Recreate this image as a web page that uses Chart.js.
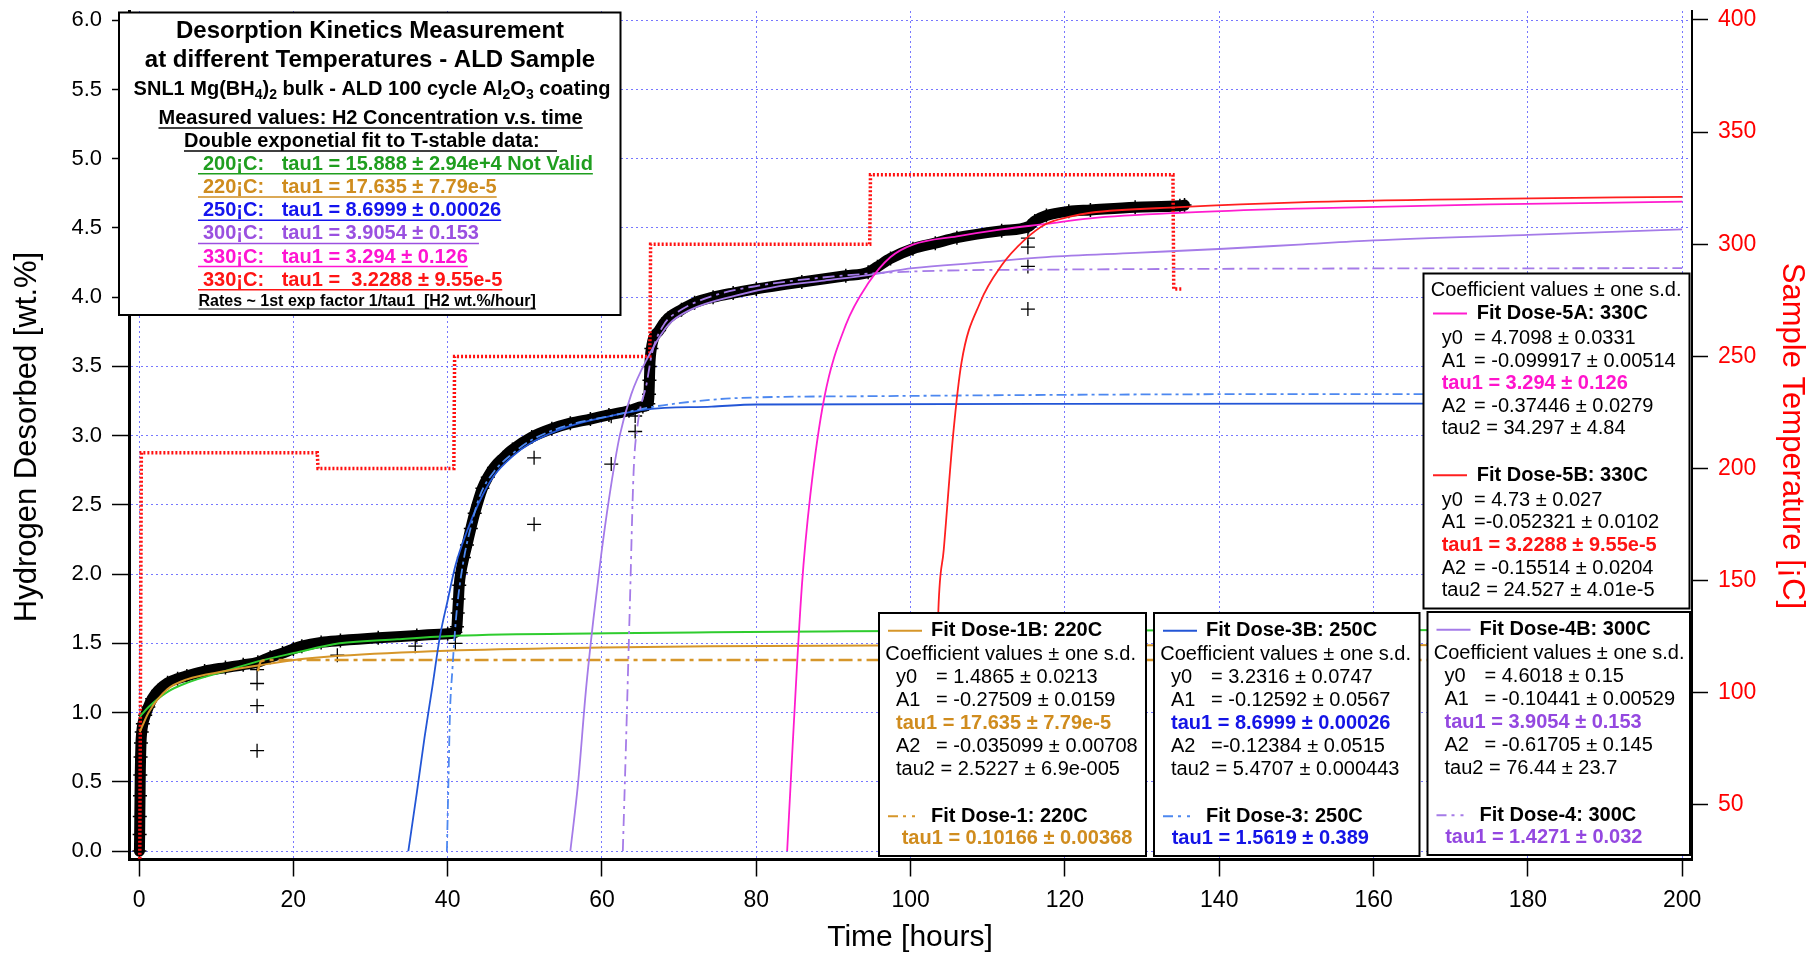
<!DOCTYPE html>
<html>
<head>
<meta charset="utf-8">
<script src="https://cdn.jsdelivr.net/npm/chart.js@4.4.1/dist/chart.umd.min.js"></script>
<style>
  html, body { margin: 0; padding: 0; background: #fff; }
  #wrap { width: 1812px; height: 953px; position: relative; }
</style>
</head>
<body>
<div id="wrap"><canvas id="c" width="1812" height="953"></canvas></div>
<script>
// ---------- tick values ----------
const xTickVals = [0, 20, 40, 60, 80, 100, 120, 140, 160, 180, 200];
const h2TickVals = [0, 0.5, 1, 1.5, 2, 2.5, 3, 3.5, 4, 4.5, 5, 5.5, 6];
const tempTickVals = [50, 100, 150, 200, 250, 300, 350, 400];

// ---------- measured H2 desorption (wt.%) vs time (h) ----------
const measTime = [0.05, 0.08, 0.1, 0.13, 0.16, 0.2, 0.25, 0.35, 0.5, 0.8, 1.2, 1.7, 2.5, 3.7, 5.0, 6.2, 8.5, 11.2, 13.5, 15.4,
  17.0, 18.6, 20.0, 21.1, 23.6, 26.1, 31.0, 36.0, 40.0, 41.0, 41.2, 41.3, 41.4, 41.5, 41.7, 42.1, 42.5, 43.0, 43.5, 44.5,
  45.2, 46.0, 47.2, 48.4, 50.9, 53.5, 55.9, 58.5, 60.9, 63.5, 65.3, 66.0, 66.1, 66.15, 66.2, 66.4, 67.4, 68.6, 70.3, 72.0,
  74.4, 77.0, 80.0, 85.9, 91.6, 94.5, 95.7, 97.4, 100.3, 103.2, 106.0, 111.8, 115.3, 116.1, 117.6, 120.5, 123.3, 129.1, 134.9, 135.5];
const measH2 = [0.0, 0.12, 0.25, 0.4, 0.55, 0.68, 0.78, 0.86, 0.92, 0.98, 1.04, 1.10, 1.16, 1.215, 1.245, 1.265, 1.30, 1.325, 1.345, 1.364,
  1.40, 1.43, 1.46, 1.48, 1.507, 1.52, 1.54, 1.556, 1.57, 1.58, 1.62, 1.72, 1.82, 1.92, 2.01, 2.12, 2.21, 2.33, 2.44, 2.62,
  2.70, 2.77, 2.84, 2.90, 2.99, 3.05, 3.09, 3.12, 3.15, 3.18, 3.21, 3.23, 3.30, 3.40, 3.50, 3.63, 3.76, 3.85, 3.91, 3.96,
  4.00, 4.03, 4.06, 4.11, 4.155, 4.18, 4.22, 4.28, 4.35, 4.39, 4.43, 4.48, 4.51, 4.55, 4.59, 4.62, 4.63, 4.65, 4.66, 4.665];

// stray readings recorded while the temperature was changing
const strayTime = [15.3, 15.3, 15.3, 15.3, 25.7, 35.8, 41.0, 51.2, 51.2, 61.2, 61.2, 64.3, 64.3, 115.2, 115.2, 115.2, 115.2];
const strayH2   = [1.31, 1.21, 1.05, 0.725, 1.414, 1.48, 1.50, 2.84, 2.36, 2.795, 3.14, 3.142, 3.03, 4.427, 4.361, 4.222, 3.914];

// ---------- sample temperature (right axis) ----------
const tempTime = [0.1, 0.3, 23.1, 23.2, 40.8, 40.9, 66.2, 66.3, 94.7, 94.8, 134.0, 134.1, 135.3];
const tempVal  = [26, 207, 207, 200, 200, 250, 250, 300, 300, 331, 331, 280, 280];

// ---------- double-exponential fits ----------
const fit200T = [0.1, 1.24, 3.7, 6.2, 11.2, 15.4, 20.1, 26.0, 33.5, 41.0, 60.9, 74.2, 88.8, 100, 150, 200];
const fit200Y = [0.97, 1.04, 1.15, 1.215, 1.30, 1.37, 1.43, 1.50, 1.53, 1.555, 1.573, 1.58, 1.586, 1.59, 1.595, 1.597];

const fit1BT = [0.1, 1.24, 3.7, 6.2, 11.2, 15.4, 20.1, 26.0, 40.0, 60.0, 74.0, 100, 150, 200];
const fit1BY = [0.86, 1.00, 1.17, 1.24, 1.30, 1.34, 1.38, 1.41, 1.447, 1.47, 1.48, 1.485, 1.487, 1.4875];

const fit1T = [15.4, 15.8, 17.0, 200];
const fit1Y = [1.30, 1.37, 1.38, 1.38];

const fit3BT = [34.9, 36.0, 37.0, 38.0, 39.0, 40.0, 41.0, 42.5, 44.0, 46.0, 48.4, 50.9, 55.9, 60.9, 65.8, 74.2, 80, 120, 200];
const fit3BY = [0.0, 0.42, 0.82, 1.18, 1.55, 1.81, 2.06, 2.31, 2.51, 2.71, 2.85, 2.95, 3.07, 3.14, 3.19, 3.21, 3.225, 3.23, 3.232];

const fit3T = [39.9, 40.1, 40.3, 40.6, 40.9, 41.2, 42.0, 43.0, 44.2, 46.0, 48.4, 50.9, 55.9, 60.9, 65.8, 68.6, 77.0, 94.5, 150, 200];
const fit3Y = [0.0, 0.5, 1.0, 1.3, 1.55, 1.75, 2.08, 2.34, 2.57, 2.74, 2.87, 2.97, 3.08, 3.14, 3.20, 3.225, 3.27, 3.285, 3.30, 3.30];

const fit4BT = [55.9, 56.9, 57.9, 58.9, 59.9, 60.9, 62.3, 63.8, 65.8, 68.6, 71.5, 77.2, 83, 88.8, 94.5, 100.3, 109, 117.6, 129.1, 140.6, 150.3, 160, 180, 200];
const fit4BY = [0.0, 0.49, 1.15, 1.68, 2.14, 2.54, 3.0, 3.30, 3.55, 3.80, 3.91, 4.01, 4.08, 4.12, 4.16, 4.21, 4.25, 4.29, 4.32, 4.35, 4.38, 4.41, 4.45, 4.49];

const fit4T = [62.7, 63.1, 63.6, 64.1, 64.6, 65.8, 66.5, 68.0, 70.0, 75.0, 80.0, 90.0, 100, 120, 200];
const fit4Y = [0.0, 0.75, 1.75, 2.74, 3.07, 3.38, 3.6, 3.80, 3.90, 4.02, 4.08, 4.15, 4.185, 4.20, 4.21];

const fit5AT = [84.0, 84.7, 85.9, 87.0, 88.8, 91.6, 94.5, 97.4, 100.3, 106, 111.8, 117.6, 123.3, 134.9, 150.3, 175, 200];
const fit5AY = [0.0, 0.75, 1.91, 2.57, 3.27, 3.80, 4.10, 4.29, 4.38, 4.44, 4.49, 4.53, 4.57, 4.61, 4.64, 4.67, 4.69];

const fit5BT = [102.7, 103.2, 103.6, 104.3, 105.5, 106.6, 109, 111.8, 114.7, 117.6, 120.5, 123.3, 134.9, 150.3, 175, 200];
const fit5BY = [0.0, 0.8, 1.745, 2.18, 3.0, 3.53, 3.96, 4.23, 4.41, 4.53, 4.58, 4.61, 4.65, 4.685, 4.71, 4.725];

// ---------- styling ----------
const FONT = '"Liberation Sans", Arial, Helvetica, sans-serif';
const fnt = (size, bold) => (bold ? 'bold ' : '') + size + 'px ' + FONT;
const pts = (xs, ys) => xs.map((x, i) => ({ x: x, y: ys[i] }));

const C_GREEN = '#2fcc2f', C_ORANGE = '#d6962a', C_BLUE = '#2356d6', C_BLUE_D = '#4d88f0',
      C_PURPLE = '#a57be8', C_MAGENTA = '#ff1ccf', C_RED = '#ff1f1f';

function fitSet(xs, ys, color, width, dash, order) {
  return {
    data: pts(xs, ys), yAxisID: 'y', borderColor: color, borderWidth: width, borderDash: dash || [],
    pointRadius: 0, fill: false, cubicInterpolationMode: 'monotone', order: order
  };
}

// ---------- text helpers for the annotation boxes ----------
function txt(ctx, s, x, y, size, bold, color, align) {
  ctx.font = fnt(size, bold);
  ctx.fillStyle = color || '#000';
  ctx.textAlign = align || 'left';
  ctx.textBaseline = 'middle';
  ctx.fillText(s, x, y);
  return ctx.measureText(s).width;
}
function hline(ctx, x1, x2, y, color, w, dash) {
  ctx.save();
  ctx.strokeStyle = color; ctx.lineWidth = w || 1.5;
  ctx.setLineDash(dash || []);
  ctx.beginPath(); ctx.moveTo(x1, y); ctx.lineTo(x2, y); ctx.stroke();
  ctx.restore();
}
function frame(ctx, x, y, w, h) {
  ctx.fillStyle = '#fff';
  ctx.fillRect(x, y, w, h);
  ctx.strokeStyle = '#000'; ctx.lineWidth = 2; ctx.setLineDash([]);
  ctx.strokeRect(x, y, w, h);
}
function runs(ctx, parts, cx, y, size) {
  // parts: [text, isSubscript]
  let total = 0;
  parts.forEach(p => { ctx.font = fnt(p[1] ? size * 0.7 : size, true); total += ctx.measureText(p[0]).width; });
  let x = cx - total / 2;
  parts.forEach(p => {
    const s = p[1] ? size * 0.7 : size;
    x += txt(ctx, p[0], x, y + (p[1] ? size * 0.3 : 0), s, true, '#000');
  });
}

const headerLines = ['Desorption Kinetics Measurement', 'at different Temperatures - ALD Sample'];
const sampleRuns = [['SNL1 Mg(BH', 0], ['4', 1], [')', 0], ['2', 1], [' bulk - ALD 100 cycle Al', 0], ['2', 1], ['O', 0], ['3', 1], [' coating', 0]];
const rateLines = [
  ['200¡C:', 'tau1 = 15.888 ± 2.94e+4 Not Valid', '#1f9e1f'],
  ['220¡C:', 'tau1 = 17.635 ± 7.79e-5', '#cf8c1e'],
  ['250¡C:', 'tau1 = 8.6999 ± 0.00026', '#1414ee'],
  ['300¡C:', 'tau1 = 3.9054 ± 0.153', '#9a50e0'],
  ['330¡C:', 'tau1 = 3.294 ± 0.126', '#ff14d2'],
  ['330¡C:', 'tau1 =  3.2288 ± 9.55e-5', '#ff1414']
];

const doseBoxes = [
  { x: 879, top: 613, w: 267, h: 243, solid: C_ORANGE, dashed: C_ORANGE, accent: '#d08c1e',
    head: 'Fit Dose-1B: 220C', rows: [['y0', '= 1.4865 ± 0.0213'], ['A1', '= -0.27509 ± 0.0159'], ['tau1 = 17.635 ± 7.79e-5'],
      ['A2', '= -0.035099 ± 0.00708'], ['tau2 = 2.5227 ± 6.9e-005']],
    head2: 'Fit Dose-1: 220C', tau: 'tau1 = 0.10166 ± 0.00368', tauDx: 22.7 },
  { x: 1154, top: 613, w: 265.5, h: 243, solid: C_BLUE, dashed: C_BLUE_D, accent: '#1414e6',
    head: 'Fit Dose-3B: 250C', rows: [['y0', '= 3.2316 ± 0.0747'], ['A1', '= -0.12592 ± 0.0567'], ['tau1 = 8.6999 ± 0.00026'],
      ['A2', '=-0.12384 ± 0.0515'], ['tau2 = 5.4707 ± 0.000443']],
    head2: 'Fit Dose-3: 250C', tau: 'tau1 = 1.5619 ± 0.389', tauDx: 17.7 },
  { x: 1427.5, top: 612, w: 262.5, h: 243, solid: C_PURPLE, dashed: C_PURPLE, accent: '#9448e0',
    head: 'Fit Dose-4B: 300C', rows: [['y0', '= 4.6018 ± 0.15'], ['A1', '= -0.10441 ± 0.00529'], ['tau1 = 3.9054 ± 0.153'],
      ['A2', '= -0.61705 ± 0.145'], ['tau2 = 76.44 ± 23.7']],
    head2: 'Fit Dose-4: 300C', tau: 'tau1 = 1.4271 ± 0.032', tauDx: 17.7 }
];

const lastDoseBox = {
  x: 1423.5, top: 273.5, w: 266, h: 335,
  parts: [
    { color: C_MAGENTA, accent: '#ff14cc', head: 'Fit Dose-5A: 330C',
      rows: [['y0', '= 4.7098 ± 0.0331'], ['A1', '= -0.099917 ± 0.00514'], ['tau1 = 3.294 ± 0.126'], ['A2', '= -0.37446 ± 0.0279'], ['tau2 = 34.297 ± 4.84']] },
    { color: C_RED, accent: '#ff1414', head: 'Fit Dose-5B: 330C',
      rows: [['y0', '= 4.73 ± 0.027'], ['A1', '=-0.052321 ± 0.0102'], ['tau1 = 3.2288 ± 9.55e-5'], ['A2', '= -0.15514 ± 0.0204'], ['tau2 = 24.527 ± 4.01e-5']] }
  ]
};

function drawRows(ctx, rows, x, eqX, y0, dy, accent) {
  rows.forEach((r, i) => {
    const y = y0 + i * dy;
    if (r.length === 2) {
      txt(ctx, r[0], x, y, 20, false, '#000');
      txt(ctx, r[1], eqX, y, 20, false, '#000');
    } else if (r[0].indexOf('tau1') === 0) {
      txt(ctx, r[0], x, y, 20, true, accent);
    } else {
      txt(ctx, r[0], x, y, 20, false, '#000');
    }
  });
}

const annotations = {
  id: 'annotations',
  afterDraw(chart) {
    const ctx = chart.ctx;
    ctx.save();

    // axis titles
    txt(ctx, 'Time [hours]', 910, 938, 30, false, '#000', 'center');
    ctx.save(); ctx.translate(27, 437); ctx.rotate(-Math.PI / 2);
    txt(ctx, 'Hydrogen Desorbed [wt.%]', 0, 0, 31, false, '#000', 'center');
    ctx.restore();
    ctx.save(); ctx.translate(1792, 436); ctx.rotate(Math.PI / 2);
    txt(ctx, 'Sample Temperature [¡C]', 0, 0, 31, false, '#ff0000', 'center');
    ctx.restore();

    // heading box
    frame(ctx, 119, 12.5, 501.5, 302.5);
    txt(ctx, headerLines[0], 370, 31.5, 24, true, '#000', 'center');
    txt(ctx, headerLines[1], 370, 60.5, 24, true, '#000', 'center');
    runs(ctx, sampleRuns, 372, 89, 20);
    let w = txt(ctx, 'Measured values: H2 Concentration v.s. time', 158.5, 118.5, 20, true, '#000');
    hline(ctx, 158.5, 158.5 + w, 128, '#000', 1.5);
    txt(ctx, 'Double exponetial fit to T-stable data:', 184, 141.5, 20, true, '#000');
    hline(ctx, 184, 557, 151, '#000', 1.5);
    rateLines.forEach((r, i) => {
      const y = 164.3 + i * 23.2;
      txt(ctx, r[0], 203, y, 20, true, r[2]);
      const wt = txt(ctx, r[1], 281.7, y, 20, true, r[2]);
      hline(ctx, 198, 281.7 + wt, y + 9.5, r[2], 1.5);
    });
    w = txt(ctx, 'Rates ~ 1st exp factor 1/tau1  [H2 wt.%/hour]', 198.5, 301.5, 16, true, '#000');
    hline(ctx, 198.5, 198.5 + w, 309, '#000', 1.2);

    // last-dose box (top right)
    const L = lastDoseBox;
    frame(ctx, L.x, L.top, L.w, L.h);
    txt(ctx, 'Coefficient values ± one s.d.', L.x + 7.2, L.top + 17.4, 20, false, '#000');
    L.parts.forEach((p, k) => {
      const base = L.top + 40 + k * 161.7;
      hline(ctx, L.x + 9.5, L.x + 43.5, base, p.color, 2);
      txt(ctx, p.head, L.x + 53.2, base, 20, true, '#000');
      drawRows(ctx, p.rows, L.x + 18.2, L.x + 50.5, base + 25, 22.6, p.accent);
    });

    // dose boxes along the bottom
    doseBoxes.forEach(b => {
      frame(ctx, b.x, b.top, b.w, b.h);
      hline(ctx, b.x + 9, b.x + 43, b.top + 17.7, b.solid, 2);
      txt(ctx, b.head, b.x + 52, b.top + 17.7, 20, true, '#000');
      txt(ctx, 'Coefficient values ± one s.d.', b.x + 6.3, b.top + 41.7, 20, false, '#000');
      drawRows(ctx, b.rows, b.x + 17, b.x + 57, b.top + 64.3, 23.1, b.accent);
      hline(ctx, b.x + 9, b.x + 43, b.top + 203.3, b.dashed, 2, [10, 5, 3, 6, 3, 20]);
      txt(ctx, b.head2, b.x + 52, b.top + 203.3, 20, true, '#000');
      txt(ctx, b.tau, b.x + b.tauDx, b.top + 225, 20, true, b.accent);
    });

    ctx.restore();
  }
};

// ---------- chart ----------
const gridColor = 'rgba(95, 95, 255, 0.85)';
const noPadV = s => { s.paddingTop = 0; s.paddingBottom = 0; };

new Chart(document.getElementById('c').getContext('2d'), {
  type: 'line',
  data: {
    datasets: [
      fitSet(fit5BT, fit5BY, C_RED, 1.8, null, 1),
      fitSet(fit5AT, fit5AY, C_MAGENTA, 1.8, null, 1),
      fitSet(fit4T, fit4Y, C_PURPLE, 1.8, [12, 5, 3, 5], 2),
      fitSet(fit4BT, fit4BY, C_PURPLE, 1.8, null, 2),
      fitSet(fit3T, fit3Y, C_BLUE_D, 1.8, [10, 4, 3, 4], 3),
      fitSet(fit3BT, fit3BY, C_BLUE, 1.8, null, 3),
      fitSet(fit1T, fit1Y, C_ORANGE, 2.5, [14, 5, 4, 5], 4),
      fitSet(fit1BT, fit1BY, C_ORANGE, 2, null, 4),
      fitSet(fit200T, fit200Y, C_GREEN, 2, null, 5),
      {
        data: pts(tempTime, tempVal), yAxisID: 'yT', borderColor: '#ff1010', borderWidth: 3.5,
        borderDash: [2, 2], pointRadius: 0, fill: false, tension: 0, order: 8
      },
      {
        data: pts(strayTime, strayH2), yAxisID: 'y', showLine: false, pointStyle: 'cross',
        pointRadius: 7, pointBorderColor: '#000', pointBorderWidth: 1.3, order: 9
      },
      {
        data: pts(measTime, measH2), yAxisID: 'y', borderColor: '#000', borderWidth: 11,
        borderJoinStyle: 'round', borderCapStyle: 'round', cubicInterpolationMode: 'monotone',
        pointStyle: 'cross', pointRadius: 7, pointBorderColor: '#000', pointBorderWidth: 1.5, fill: false, order: 10
      }
    ]
  },
  options: {
    responsive: false,
    animation: false,
    events: [],
    layout: { padding: { top: 11, left: 0, right: 0, bottom: 0 } },
    plugins: { legend: { display: false }, tooltip: { enabled: false } },
    scales: {
      x: {
        type: 'linear', position: 'bottom', min: -1.3, max: 201.27,
        afterBuildTicks: s => { s.ticks = xTickVals.map(v => ({ value: v })); },
        afterFit: s => { s.height = 93.5; s.paddingLeft = 0; s.paddingRight = 0; },
        grid: { color: gridColor, lineWidth: 1, tickLength: 17, tickColor: '#000', tickWidth: 1.5 },
        border: { display: true, color: '#000', width: 3, dash: [2, 3] },
        ticks: { font: { family: FONT, size: 23 }, color: '#000', padding: 10, maxRotation: 0, autoSkip: false,
                 callback: v => String(v) }
      },
      y: {
        type: 'linear', position: 'left', min: -0.061, max: 6.067,
        afterBuildTicks: s => { s.ticks = h2TickVals.map(v => ({ value: v })); },
        afterFit: s => { s.width = 129; noPadV(s); },
        grid: { color: gridColor, lineWidth: 1, tickLength: 17, tickColor: '#000', tickWidth: 1.5 },
        border: { display: true, color: '#000', width: 3, dash: [2, 3] },
        ticks: { font: { family: FONT, size: 22 }, color: '#000', padding: 10, autoSkip: false,
                 callback: v => v.toFixed(1) }
      },
      yT: {
        type: 'linear', position: 'right', min: 25.7, max: 404.0,
        afterBuildTicks: s => { s.ticks = tempTickVals.map(v => ({ value: v })); },
        afterFit: s => { s.width = 120; noPadV(s); },
        grid: { drawOnChartArea: false, tickLength: 16, tickColor: '#000', tickWidth: 1.5 },
        border: { display: true, color: '#000', width: 2 },
        ticks: { font: { family: FONT, size: 23 }, color: '#ff0000', padding: 10, autoSkip: false,
                 callback: v => String(v) }
      }
    }
  },
  plugins: [annotations]
});
</script>
</body>
</html>
